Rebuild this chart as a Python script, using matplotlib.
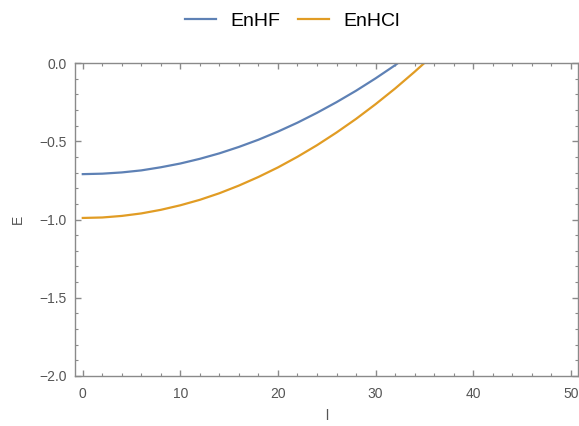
import matplotlib.pyplot as plt
from matplotlib.ticker import MultipleLocator

# rotational quantum number l and the energy E for each molecule
l_hf = [0, 2, 4, 6, 8, 10, 12, 14, 16, 18, 20, 22, 24, 26, 28, 30, 32, 32.3]
en_hf = [-0.710, -0.707, -0.699, -0.686, -0.666, -0.642, -0.612, -0.577,
         -0.536, -0.490, -0.438, -0.381, -0.318, -0.250, -0.177, -0.098,
         -0.014, 0.0]

l_hcl = [0, 2, 4, 6, 8, 10, 12, 14, 16, 18, 20, 22, 24, 26, 28, 30, 32, 34, 35]
en_hcl = [-0.990, -0.987, -0.977, -0.961, -0.938, -0.909, -0.874, -0.832,
          -0.783, -0.728, -0.667, -0.599, -0.525, -0.444, -0.357, -0.263,
          -0.163, -0.056, 0.0]

plt.rcParams["font.family"] = ["Liberation Sans", "DejaVu Sans"]

fig = plt.figure(figsize=(5.79, 4.26), dpi=100)
ax = fig.add_axes([0.1295, 0.1174, 0.868, 0.7346])

ax.plot(l_hf, en_hf, color="#5E81B5", lw=1.6, label="EnHF",
        solid_joinstyle="round")
ax.plot(l_hcl, en_hcl, color="#E19C24", lw=1.6, label="EnHCl",
        solid_joinstyle="round")

ax.set_xlim(-0.8, 50.7)
ax.set_ylim(-2.0, 0.0)
ax.xaxis.set_major_locator(MultipleLocator(10))
ax.xaxis.set_minor_locator(MultipleLocator(2))
ax.yaxis.set_major_locator(MultipleLocator(0.5))
ax.yaxis.set_minor_locator(MultipleLocator(0.1))
ax.yaxis.set_major_formatter(lambda v, pos: f"{v:.1f}".replace("-", "\u2212"))

for s in ax.spines.values():
    s.set_color("#8a8a8a")
    s.set_linewidth(1.0)
ax.tick_params(which="both", direction="in", top=True, right=True,
               color="#8a8a8a", labelcolor="#555555", labelsize=10)
ax.tick_params(which="major", length=4.5, width=1.0)
ax.tick_params(which="minor", length=2.5, width=0.8)
ax.tick_params(axis="y", pad=6)
ax.tick_params(axis="x", pad=8)

ax.set_xlabel("l", color="#555555", fontsize=10, labelpad=6)
ax.set_ylabel("E", color="#555555", fontsize=10, labelpad=10)

fig.legend(loc="center", bbox_to_anchor=(0.505, 0.951), ncol=2, frameon=False,
           fontsize=14, handlelength=1.6, handletextpad=0.75, columnspacing=0.9)

fig.savefig("out.png", dpi=100)
